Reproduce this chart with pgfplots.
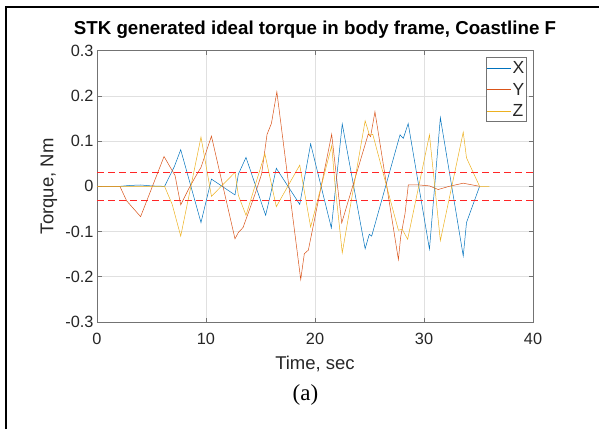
\documentclass[border=0pt]{standalone}
\usepackage{fontspec}
\setmainfont{Liberation Sans}
\newfontfamily\capfont{Liberation Serif}
\usepackage{pgfplots}
\pgfplotsset{compat=1.18}
\definecolor{mX}{rgb}{0,0.447,0.741}
\definecolor{mY}{rgb}{0.85,0.325,0.098}
\definecolor{mZ}{rgb}{0.929,0.694,0.125}
\definecolor{txt}{rgb}{0.15,0.15,0.15}
\begin{document}
\begin{tikzpicture}[x=1pt,y=1pt]
\path[use as bounding box] (0,0) rectangle (599,429);
\draw[line width=2.5pt] (6,0) -- (6,422) -- (600,422);
\begin{axis}[
  at={(97pt,107pt)}, anchor=south west,
  scale only axis, width=436pt, height=271.3pt,
  xmin=0, xmax=40, ymin=-0.3, ymax=0.3,
  xtick={0,10,20,30,40},
  xticklabels={0,10,20,30,40},
  ytick={-0.3,-0.2,-0.1,0,0.1,0.2,0.3},
  yticklabels={-0.3,-0.2,-0.1,0,0.1,0.2,0.3},
  tick label style={font=\fontsize{16.3}{16.3}\selectfont, text=txt},
  xticklabel style={yshift=-7.7pt},
  tick align=inside, major tick length=4.5pt,
  axis line style={black!55, line width=0.8pt},
  tick style={black!55, line width=0.6pt},
  grid=major, grid style={black!12, line width=0.6pt},
  title={STK generated ideal torque in body frame, Coastline F},
  title style={at={(0.5,1)}, anchor=base, yshift=10.2pt, font=\bfseries\fontsize{18.7}{18.7}\selectfont},
  xlabel={Time, sec},
  xlabel style={at={(axis description cs:0.5,0)}, anchor=base, yshift=-47pt, font=\fontsize{18.5}{18.5}\selectfont, text=txt},
  ylabel={Torque, Nm},
  ylabel style={at={(axis description cs:-0.11,0.5)}, anchor=center, font=\fontsize{18.5}{18.5}\selectfont, text=txt},
  legend style={at={(1,1)}, anchor=north east, xshift=-6.3pt, yshift=-6pt,
    draw=black!55, line width=0.6pt, inner xsep=1pt, inner ysep=4pt, row sep=8pt,
    font=\fontsize{17.5}{17.5}\selectfont, text=txt,
    nodes={inner sep=1pt, text height=11.5pt, text depth=0pt}},
  legend cell align=left,
  legend image code/.code={\draw[#1] (0pt,0pt) -- (24pt,0pt);},
]
\addplot[mX, line width=0.5pt] coordinates {
 (0,0) (2.1,0) (3,0.002) (4,0.003) (5,0.001) (6.2,0) (7.1,0.044) (7.68,0.081)
 (9.54,-0.08) (10.5,0.016) (12.66,-0.019) (12.97,0.027) (13.67,0.064)
 (15.47,-0.064) (15.9,-0.02) (16.45,0.04) (18.6,-0.04) (19.6,0.094)
 (21.5,-0.092) (22.5,0.138) (24.6,-0.138) (24.98,-0.106) (25.2,-0.11)
 (27.8,0.114) (28.1,0.106) (28.55,0.139) (30.5,-0.139) (31.5,0.152)
 (33.6,-0.154) (33.9,-0.08) (35.1,0)
};
\addlegendentry{X}
\addplot[mY, line width=0.5pt] coordinates {
 (0,0) (2.1,0) (2.72,-0.032) (4.0,-0.067) (6.15,0.066) (7.16,0.024) (7.68,-0.041)
 (8.4,-0.006) (9.0,0.02) (9.54,0.042) (9.9,0.068) (10.5,0.111)
 (12.66,-0.116) (12.97,-0.102) (13.4,-0.091) (14.5,-0.017) (15.1,0.027)
 (15.6,0.115) (16.0,0.139) (16.5,0.209) (18.69,-0.206) (19.02,-0.149)
 (19.39,-0.141) (21.53,0.115) (22.45,-0.081) (24.89,0.116) (25.1,0.11)
 (25.5,0.165) (27.65,-0.162) (27.86,-0.112) (28.26,-0.06) (28.56,0.003)
 (29.6,0.003) (30.5,0.001) (31.3,-0.007) (32.3,0.0) (33.6,0.007) (35.1,0)
};
\addlegendentry{Y}
\addplot[mZ, line width=0.5pt] coordinates {
 (0,0) (6.2,0) (6.9,-0.04) (7.68,-0.11) (9.54,0.109) (9.9,0.06) (10.5,-0.022)
 (12.66,0.031) (12.97,-0.02) (13.67,-0.064) (15.4,0.072) (16.45,-0.045)
 (18.6,0.047) (19.6,-0.09) (21.53,0.09) (21.85,0.0) (22.5,-0.147)
 (24.6,0.145) (25.0,0.113) (25.3,0.115) (27.65,-0.097) (28.0,-0.095)
 (28.5,-0.117) (30.5,0.114) (31.5,-0.12) (33.6,0.12) (33.9,0.063)
 (35.1,0) (36,0)
};
\addlegendentry{Z}
\addplot[red!85, line width=0.7pt, dash pattern=on 7pt off 4pt, forget plot] coordinates {(0,0.03) (40,0.03)};
\addplot[red!85, line width=0.7pt, dash pattern=on 7pt off 4pt, forget plot] coordinates {(0,-0.03) (40,-0.03)};
\end{axis}
\node[font=\capfont\fontsize{23}{23}\selectfont, anchor=base, text=black] at (305.5,29) {(a)};
\end{tikzpicture}
\end{document}
